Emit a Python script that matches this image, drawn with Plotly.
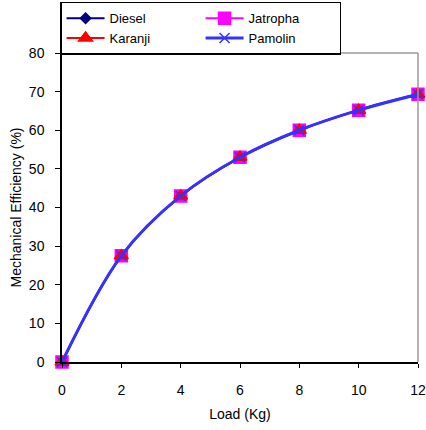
import plotly.graph_objects as go

load = [0, 2, 4, 6, 8, 10, 12]
diesel = [0, 27.5, 43.0, 53.0, 60.0, 65.2, 69.3]
jatropha = [0, 27.5, 43.0, 53.0, 60.0, 65.2, 69.3]
karanji = [0, 27.5, 43.0, 53.0, 60.0, 65.2, 69.3]
pamolin = [0, 27.5, 43.0, 53.0, 60.0, 65.2, 69.3]

series = [
    ("Diesel", diesel, "#000080", "diamond", 8),
    ("Jatropha", jatropha, "#FF00FF", "square", 12),
    ("Karanji", karanji, "#FF0000", "triangle-up", 12),
    ("Pamolin", pamolin, "#3333FF", "x-thin", 10),
]

fig = go.Figure()
for name, y, col, sym, sz in series:
    fig.add_trace(go.Scatter(
        x=load, y=y, name=name, mode="lines+markers", cliponaxis=False,
        line=dict(color=col, width=3 if name == "Pamolin" else 2, shape="spline", smoothing=1.0),
        marker=dict(symbol=sym, size=sz, color=col, line=dict(color=col, width=1.5)),
    ))

font = "Liberation Sans, Arial, sans-serif"
fig.update_layout(
    width=426, height=430,
    margin=dict(l=62, r=8, t=53, b=68, autoexpand=False),
    paper_bgcolor="white", plot_bgcolor="white",
    font=dict(family=font, size=14, color="black"),
    showlegend=True,
    legend=dict(
        orientation="h", x=0.141, y=0.996, xanchor="left", yanchor="top",
        xref="container", yref="container",
        entrywidth=86, entrywidthmode="pixels",
        bordercolor="black", borderwidth=1.5, bgcolor="white",
        font=dict(size=13), tracegroupgap=0, itemwidth=38,
    ),
    xaxis=dict(
        range=[0, 12], dtick=2, showgrid=False, zeroline=False,
        showline=True, linecolor="black", linewidth=1.5, mirror=False,
        ticks="outside", ticklen=4, tickcolor="black", ticklabelstandoff=10,
        title=dict(text="Load (Kg)", font=dict(size=14), standoff=13),
    ),
    yaxis=dict(
        range=[0, 80], dtick=10, showgrid=False, zeroline=False,
        showline=True, linecolor="black", linewidth=1.5,
        ticks="outside", ticklen=5, tickcolor="black", ticklabelstandoff=8,
        title=dict(text="Mechanical Efficiency (%)", font=dict(size=14), standoff=4),
    ),
    shapes=[
        dict(type="line", xref="paper", yref="paper", x0=0, x1=1, y0=1, y1=1,
             line=dict(color="#999999", width=1.5)),
        dict(type="line", xref="paper", yref="paper", x0=1, x1=1, y0=0, y1=1,
             line=dict(color="#999999", width=1.5)),
    ],
)
fig.write_html("out.html")
